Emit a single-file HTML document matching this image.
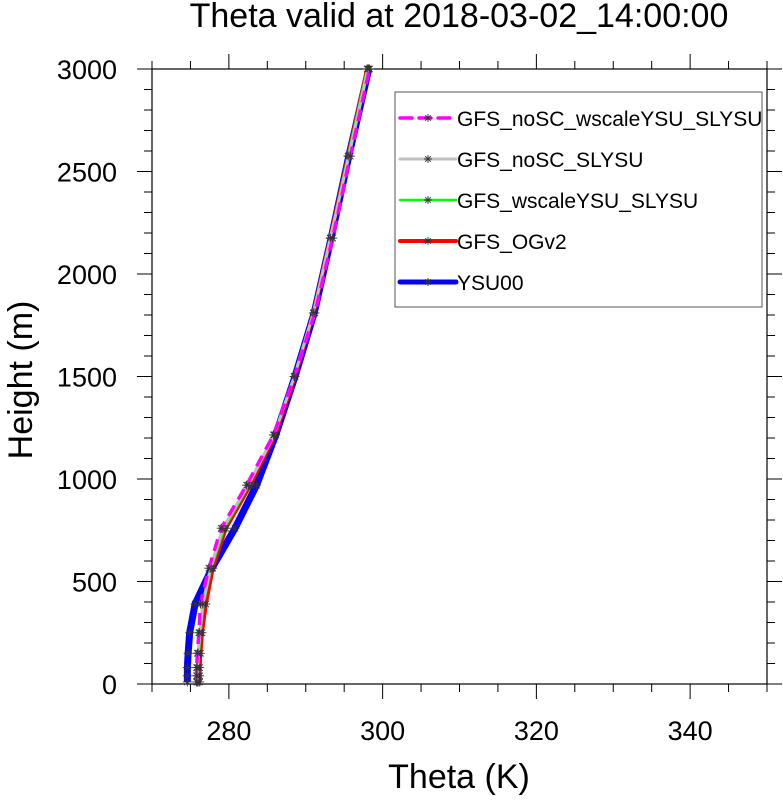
<!DOCTYPE html>
<html><head><meta charset="utf-8"><style>
body{margin:0;background:#fff}
svg text{font-family:"Liberation Sans",sans-serif;fill:#000}
</style></head><body>
<svg id="chart" width="783" height="796" xmlns="http://www.w3.org/2000/svg">
<text x="459" y="27" font-size="34" text-anchor="middle">Theta valid at 2018-03-02_14:00:00</text>
<text x="459" y="788" font-size="34" text-anchor="middle">Theta (K)</text>
<text transform="translate(32,380) rotate(-90)" font-size="34" text-anchor="middle">Height (m)</text>
<g id="axes"></g>
<g id="series"></g>
<g id="legend"></g>
</svg>
<script>
const heights=[10,40,80,150,250,390,565,760,970,1215,1500,1810,2175,2575,3000];
const ysu00=[274.6,274.6,274.6,274.7,274.9,275.6,277.8,280.8,283.6,286.1,288.6,291.1,293.3,295.6,298.2];
const ogv2=[276.2,276.2,276.2,276.3,276.5,277.0,277.9,279.6,282.8,286.0,288.6,291.0,293.2,295.5,298.0];
const wscale=[276.0,276.0,276.0,276.1,276.3,276.7,277.7,279.4,282.6,285.9,288.5,291.0,293.2,295.5,298.0];
const noscSl=[275.9,275.9,275.9,276.0,276.2,276.6,277.6,279.2,282.5,285.9,288.5,291.0,293.2,295.6,298.1];
const noscWscale=[275.8,275.8,275.8,275.9,276.1,276.3,277.4,279.0,282.3,285.8,288.5,291.2,293.5,295.8,298.3];
const xTicks=[280,300,320,340];
const yTicks=[0,500,1000,1500,2000,2500,3000];
const seriesNames=["GFS_noSC_wscaleYSU_SLYSU","GFS_noSC_SLYSU","GFS_wscaleYSU_SLYSU","GFS_OGv2","YSU00"];

const NS="http://www.w3.org/2000/svg";
const L=152,R=767,T=69,B=684,XMIN=270,XMAX=350,YMIN=0,YMAX=3000;
const xs=v=>L+(v-XMIN)/(XMAX-XMIN)*(R-L);
const ys=v=>B-(v-YMIN)/(YMAX-YMIN)*(B-T);
function mk(tag,attrs,parent){const e=document.createElementNS(NS,tag);for(const k in attrs)e.setAttribute(k,attrs[k]);parent.appendChild(e);return e;}
const axes=document.getElementById('axes');
const frame=mk('rect',{x:L,y:T,width:R-L,height:B-T,fill:'none',stroke:'#000','stroke-width':1.2},axes);


for(let v=XMIN;v<=XMAX;v+=5){
  const x=xs(v),len=(v%20===0)?15:8;
  const t1=mk('line',{x1:x,x2:x,y1:B,y2:B+len,stroke:'#000','stroke-width':1},axes);
  
  
  const t2=mk('line',{x1:x,x2:x,y1:T,y2:T-len,stroke:'#000','stroke-width':1},axes);
  
  
}
for(let v=YMIN;v<=YMAX;v+=100){
  const y=ys(v),len=(v%500===0)?15:8;
  const t1=mk('line',{x1:L,x2:L-len,y1:y,y2:y,stroke:'#000','stroke-width':1},axes);
  
  
  const t2=mk('line',{x1:R,x2:R+len,y1:y,y2:y,stroke:'#000','stroke-width':1},axes);
  
  
}
xTicks.forEach(v=>{const t=mk('text',{x:xs(v),y:740,'font-size':27,'text-anchor':'middle'},axes);t.textContent=v;
  
  });
yTicks.forEach(v=>{const t=mk('text',{x:117,y:ys(v)+10,'font-size':27,'text-anchor':'end'},axes);t.textContent=v;
  
  });

const styles=[
 {data:noscWscale,color:'#ff00ff',w:3.5,dash:'12,7',name:'series-nosc-wscaleysu-slysu'},
 {data:noscSl,color:'#c0c0c0',w:3,dash:'',name:'series-nosc-slysu'},
 {data:wscale,color:'#00ff00',w:2.5,dash:'',name:'series-wscaleysu-slysu'},
 {data:ogv2,color:'#ff0000',w:4,dash:'',name:'series-ogv2'},
 {data:ysu00,color:'#0000ff',w:7,dash:'',name:'series-ysu00'}];
const sg=document.getElementById('series');
function star(x,y,g,s){
  for(let a=0;a<180;a+=45){const r=a*Math.PI/180;
    const l=mk('line',{x1:x-s*Math.cos(r),y1:y-s*Math.sin(r),x2:x+s*Math.cos(r),y2:y+s*Math.sin(r),stroke:'#333','stroke-width':0.9},g);
    
    }
}
[4,3,2,1,0].forEach(i=>{
  const s=styles[i];
  const g=mk('g',{},sg);
  
  
  const pts=s.data.map((v,j)=>xs(v)+','+ys(heights[j])).join(' ');
  const pl=mk('polyline',{points:pts,fill:'none',stroke:s.color,'stroke-width':s.w,'stroke-dasharray':s.dash,'stroke-linejoin':'round'},g);
  
  
  s.data.forEach((v,j)=>star(xs(v),ys(heights[j]),g,4.5));
});
const lg=document.getElementById('legend');
const box=mk('rect',{x:395,y:92,width:367,height:215,fill:'#fff',stroke:'#555','stroke-width':1},lg);


seriesNames.forEach((n,i)=>{
  const s=styles[i],y=118+41*i;
  const g=mk('g',{},lg);
  
  
  mk('line',{x1:400,x2:456,y1:y,y2:y,stroke:s.color,'stroke-width':Math.min(s.w,5),'stroke-dasharray':s.dash,'stroke-linecap':'round'},g);
  star(428,y,g,4);
  const t=mk('text',{x:457,y:y+8,'font-size':21},g);t.textContent=n;
});
</script>
</body></html>
